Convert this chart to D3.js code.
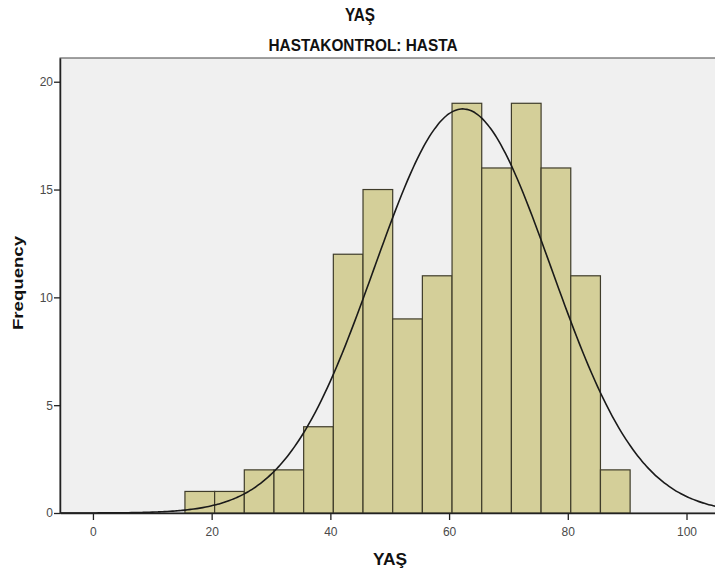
<!DOCTYPE html>
<html>
<head>
<meta charset="utf-8">
<script src="https://cdn.jsdelivr.net/npm/d3@7"></script>
<style>
  body { margin: 0; background: #fff; }
  text { font-family: Arial, "Liberation Sans", sans-serif; }
</style>
</head>
<body>
<script>
// histogram bins (lower edge, upper edge) and counts
var binStarts = [15.5, 20.5, 25.5, 30.5, 35.5, 40.5, 45.5, 50.5, 55.5, 60.5, 65.5, 70.5, 75.5, 80.5, 85.5];
var binWidth = 5;
var counts = [1, 1, 2, 2, 4, 12, 15, 9, 11, 19, 16, 19, 16, 11, 2];

// normal curve parameters (estimated from the curve)
var curveMean = 62.3;
var curveSd = 14.9;
var curveN = 140;

var xTicks = [0, 20, 40, 60, 80, 100];
var yTicks = [0, 5, 10, 15, 20];

var svgWidth = 715;
var svgHeight = 577;

// plot box
var margin = { top: 58, right: -5, bottom: 64, left: 60 };
var width = svgWidth - margin.left - margin.right;
var height = svgHeight - margin.top - margin.bottom;

var svg = d3.select("body")
  .append("svg")
  .attr("width", svgWidth)
  .attr("height", svgHeight);

// titles (condensed look via textLength)
svg.append("text")
  .attr("x", 360)
  .attr("y", 21)
  .attr("text-anchor", "middle")
  .attr("textLength", 30)
  .attr("lengthAdjust", "spacingAndGlyphs")
  .style("font-weight", "bold")
  .style("font-size", "19px")
  .attr("fill", "#111")
  .text("YAŞ");

svg.append("text")
  .attr("x", 363)
  .attr("y", 51)
  .attr("text-anchor", "middle")
  .attr("textLength", 189)
  .attr("lengthAdjust", "spacingAndGlyphs")
  .style("font-weight", "bold")
  .style("font-size", "16.5px")
  .attr("fill", "#111")
  .text("HASTAKONTROL: HASTA");

var chartGroup = svg.append("g")
  .attr("transform", `translate(${margin.left}, ${margin.top})`);

var xScale = d3.scaleLinear()
  .domain([-5.55, 104.8])
  .range([0, 655]);

var yScale = d3.scaleLinear()
  .domain([0, 21.1])
  .range([height, 0]);

// background of plot
chartGroup.append("rect")
  .attr("x", 0)
  .attr("y", 0)
  .attr("width", width)
  .attr("height", height)
  .attr("fill", "#f0f0f0")
  .attr("stroke", "#444")
  .attr("stroke-width", 1);

// bars
chartGroup.selectAll(".bar")
  .data(counts)
  .enter()
  .append("rect")
  .attr("class", "bar")
  .attr("x", (d, i) => xScale(binStarts[i]))
  .attr("y", d => yScale(d))
  .attr("width", (d, i) => xScale(binStarts[i] + binWidth) - xScale(binStarts[i]))
  .attr("height", d => height - yScale(d))
  .attr("fill", "#d4cf99")
  .attr("stroke", "#3f3c2a")
  .attr("stroke-width", 1.2);

// normal curve
var curvePoints = d3.range(-5.5, 106, 0.5).map(function(x) {
  var z = (x - curveMean) / curveSd;
  return [x, curveN * binWidth / (curveSd * Math.sqrt(2 * Math.PI)) * Math.exp(-0.5 * z * z)];
});

chartGroup.append("path")
  .datum(curvePoints)
  .attr("fill", "none")
  .attr("stroke", "#1a1a1a")
  .attr("stroke-width", 1.6)
  .attr("d", d3.line().x(d => xScale(d[0])).y(d => yScale(d[1])).curve(d3.curveBasis));

// axes
var bottomAxis = d3.axisBottom(xScale).tickValues(xTicks).tickSize(7).tickSizeOuter(0);
var leftAxis = d3.axisLeft(yScale).tickValues(yTicks).tickSize(6).tickSizeOuter(0);

var xAxisG = chartGroup.append("g")
  .attr("transform", `translate(0, ${height})`)
  .call(bottomAxis);

var yAxisG = chartGroup.append("g")
  .call(leftAxis);

[xAxisG, yAxisG].forEach(function(g) {
  g.select(".domain").attr("stroke", "#222").attr("stroke-width", 1.5);
  g.selectAll(".tick line").attr("stroke", "#222").attr("stroke-width", 1.3);
  g.selectAll(".tick text")
    .attr("fill", "#4a4a4a")
    .style("font-size", "12px")
    .style("font-family", "Arial, 'Liberation Sans', sans-serif");
});
xAxisG.selectAll(".tick text").attr("dy", "1.05em");
yAxisG.selectAll(".tick text").attr("x", -7);

// axis labels
svg.append("text")
  .attr("transform", "rotate(-90)")
  .attr("x", -283)
  .attr("y", 23)
  .attr("text-anchor", "middle")
  .attr("textLength", 94)
  .attr("lengthAdjust", "spacingAndGlyphs")
  .style("font-weight", "bold")
  .style("font-size", "15px")
  .attr("fill", "#111")
  .text("Frequency");

svg.append("text")
  .attr("x", 390)
  .attr("y", 565)
  .attr("text-anchor", "middle")
  .attr("textLength", 34)
  .attr("lengthAdjust", "spacingAndGlyphs")
  .style("font-weight", "bold")
  .style("font-size", "16px")
  .attr("fill", "#111")
  .text("YAŞ");
</script>
</body>
</html>
